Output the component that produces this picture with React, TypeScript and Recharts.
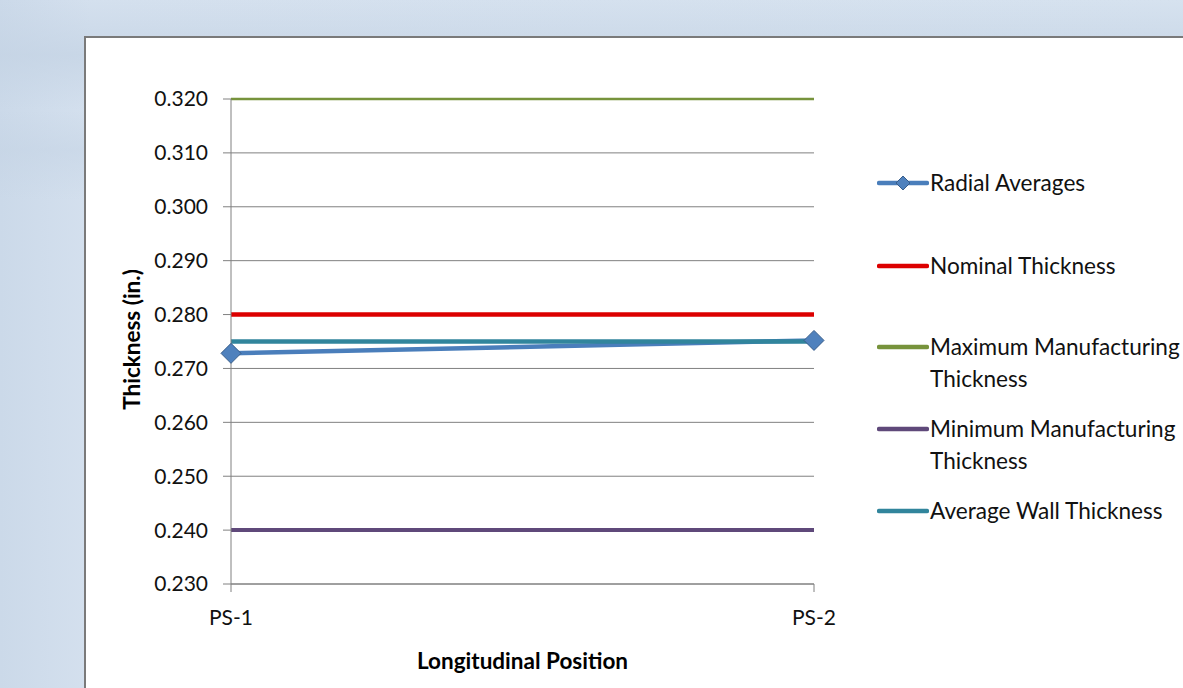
import React from 'react';
import { LineChart, Line, XAxis, YAxis, CartesianGrid, Legend } from 'recharts';

// Longitudinal positions along the pipe section
const positions = ['PS-1', 'PS-2'];

// Thickness series (inches)
const radialAverages = [0.2728, 0.2752];
const nominalThickness = [0.28, 0.28];
const maxManufacturing = [0.32, 0.32];
const minManufacturing = [0.24, 0.24];
const averageWall = [0.275, 0.275];

// Y axis tick values
const yTicks = [0.23, 0.24, 0.25, 0.26, 0.27, 0.28, 0.29, 0.3, 0.31, 0.32];

const data = positions.map((position, i) => ({
  position,
  radial: radialAverages[i],
  nominal: nominalThickness[i],
  max: maxManufacturing[i],
  min: minManufacturing[i],
  avg: averageWall[i],
}));

const FONT = 'Lato, "Open Sans", sans-serif';

type SeriesDef = {
  key: string;
  name: string;
  color: string;
  width: number;
  marker?: boolean;
};

const series: SeriesDef[] = [
  { key: 'radial', name: 'Radial Averages', color: '#4A7EBB', width: 4.5, marker: true },
  { key: 'nominal', name: 'Nominal Thickness', color: '#DC0000', width: 4.5 },
  { key: 'max', name: 'Maximum Manufacturing Thickness', color: '#77933C', width: 2.5 },
  { key: 'min', name: 'Minimum Manufacturing Thickness', color: '#5F497A', width: 4 },
  { key: 'avg', name: 'Average Wall Thickness', color: '#31859C', width: 4.5 },
];

const Diamond = (props: any) => {
  const { cx, cy, index } = props;
  if (cx == null || cy == null) return null;
  const r = 10;
  return (
    <path
      key={`diamond-${index}`}
      d={`M${cx} ${cy - r} L${cx + r} ${cy} L${cx} ${cy + r} L${cx - r} ${cy} Z`}
      fill="#4F81BD"
      stroke="#385D8A"
      strokeWidth={1}
    />
  );
};

// Vertical offsets of each legend entry (first text line centre)
const legendOffsets = [0, 83, 164, 246, 328];

const LegendContent = () => (
  <div style={{ position: 'relative', width: 420, height: 380, fontFamily: FONT }}>
    {series.map((s, i) => (
      <div
        key={s.key}
        style={{ position: 'absolute', left: 0, top: legendOffsets[i], display: 'flex', alignItems: 'flex-start' }}
      >
        <svg width={52} height={32} style={{ flex: 'none' }}>
          <line x1={2} y1={16} x2={50} y2={16} stroke={s.color} strokeWidth={4.5} strokeLinecap="round" />
          {s.marker && <path d="M26 9 L33 16 L26 23 L19 16 Z" fill="#4F81BD" stroke="#385D8A" strokeWidth={1} />}
        </svg>
        <div style={{ width: 262, fontSize: 22.6, lineHeight: '32px', color: '#111', marginLeft: 1 }}>{s.name}</div>
      </div>
    ))}
  </div>
);

const YTitle = (props: any) => {
  const vb = props.viewBox || { x: 0, y: 0, width: 0, height: 0 };
  const x = vb.x + 45;
  const y = vb.y + vb.height / 2 - 2;
  return (
    <text
      x={x}
      y={y}
      transform={`rotate(-90 ${x} ${y})`}
      textAnchor="middle"
      dominantBaseline="central"
      fontFamily={FONT}
      fontWeight={700}
      fontSize={22.5}
      fill="#000"
    >
      Thickness (in.)
    </text>
  );
};

const XTitle = (props: any) => {
  const vb = props.viewBox || { x: 0, y: 0, width: 0, height: 0 };
  const x = vb.x + vb.width / 2;
  const y = vb.y + 76;
  return (
    <text
      x={x}
      y={y}
      textAnchor="middle"
      dominantBaseline="central"
      fontFamily={FONT}
      fontWeight={700}
      fontSize={22.5}
      fill="#000"
    >
      Longitudinal Position
    </text>
  );
};

export default function App() {
  return (
    <div
      style={{
        position: 'fixed',
        left: 0,
        top: 0,
        width: 1183,
        height: 688,
        overflow: 'hidden',
        background:
          'linear-gradient(180deg, rgba(196,211,228,0) 0px, rgba(196,211,228,0.7) 55px, rgba(196,211,228,0) 110px, rgba(196,211,228,0.5) 150px, rgba(196,211,228,0) 200px), linear-gradient(90deg, #cbd9e9 0px, #d4e0ee 90px, #d6e2ef 100%)',
        fontFamily: FONT,
      }}
    >
      <div
        style={{
          position: 'absolute',
          left: 84,
          top: 36,
          width: 1200,
          height: 700,
          border: '2px solid #7a7a7a',
          background: '#fff',
        }}
      >
        <LineChart
          width={1097}
          height={650}
          data={data}
          margin={{ top: 61, right: 369, bottom: 14, left: 0 }}
        >
          <CartesianGrid vertical={false} stroke="#808080" strokeWidth={1} />
          <XAxis
            dataKey="position"
            scale="point"
            padding={{ left: 0, right: 0 }}
            height={90}
            tickSize={8}
            tickMargin={18}
            axisLine={{ stroke: '#808080' }}
            tickLine={{ stroke: '#808080' }}
            tick={{ fill: '#111', fontSize: 21, fontFamily: FONT }}
            label={{ content: XTitle }}
          />
          <YAxis
            domain={[0.23, 0.32]}
            ticks={yTicks}
            interval={0}
            width={145}
            tickSize={8}
            tickMargin={15}
            tickFormatter={(v: number) => v.toFixed(3)}
            axisLine={{ stroke: '#808080' }}
            tickLine={{ stroke: '#808080' }}
            tick={{ fill: '#111', fontSize: 21, fontFamily: FONT }}
            label={{ content: YTitle }}
          />
          <Legend
            layout="vertical"
            align="center"
            verticalAlign="middle"
            wrapperStyle={{ left: 791, top: 129, width: 420 }}
            content={LegendContent}
          />
          {series.map((s) => (
            <Line
              key={s.key}
              dataKey={s.key}
              name={s.name}
              type="linear"
              stroke={s.color}
              strokeWidth={s.width}
              dot={s.marker ? Diamond : false}
              activeDot={false}
              isAnimationActive={false}
            />
          ))}
        </LineChart>
      </div>
    </div>
  );
}
